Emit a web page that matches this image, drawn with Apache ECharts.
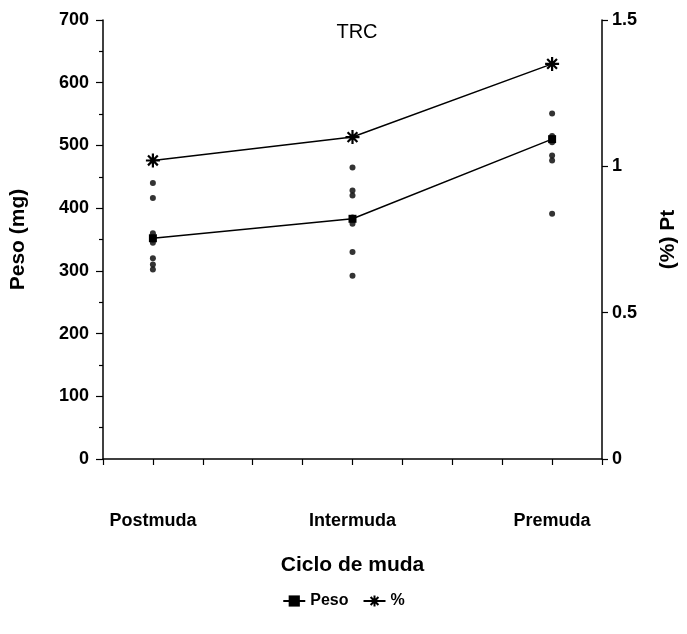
<!DOCTYPE html>
<html>
<head>
<meta charset="utf-8">
<script src="https://cdn.jsdelivr.net/npm/echarts@6/dist/echarts.min.js"></script>
<style>
  html, body { margin: 0; padding: 0; background: #fff; }
</style>
</head>
<body>
<div id="chart" style="width: 687px;height: 634px"></div>
<script>
// categorias (posicion en el eje x de 0 a 10)
const categorias = ['Postmuda', 'Intermuda', 'Premuda']
const posX = [1, 5, 9]
// promedios
const pesoMedia = [352, 383, 510]
const ptMedia = [1.02, 1.10, 1.35]
// valores individuales de peso (mg)
const pesoPost = [440, 416, 360, 350, 345, 320, 310, 302]
const pesoInter = [465, 428, 420, 385, 375, 330, 292]
const pesoPre = [551, 515, 510, 505, 484, 476, 391]

const asterisco = 'path://M0,-10L0,10M-10,0L10,0M-7,-7L7,7M-7,7L7,-7'
const fuente = 'Liberation Sans'

function puntos (x, vals) {
  return vals.map(v => [x, v])
}

const individuales = [].concat(
  puntos(posX[0], pesoPost),
  puntos(posX[1], pesoInter),
  puntos(posX[2], pesoPre)
)

const myChart = echarts.init(document.getElementById('chart'))
const option = {
  animation: false,
  title: {
    text: 'TRC',
    left: 352,
    top: 17,
    textAlign: 'center',
    textStyle: { fontFamily: fuente, fontSize: 20, fontWeight: 'normal', color: '#000' }
  },
  legend: {
    bottom: 20,
    left: 'center',
    itemWidth: 22,
    itemGap: 14,
    data: ['Peso', '%'],
    textStyle: { fontFamily: fuente, fontSize: 16, fontWeight: 'bold', color: '#000' }
  },
  grid: { left: 98, right: 81, top: 20, bottom: 175 },
  xAxis: {
    type: 'value',
    min: 0,
    max: 10,
    interval: 1,
    name: 'Ciclo de muda',
    nameLocation: 'middle',
    nameGap: 96,
    nameTextStyle: { fontFamily: fuente, fontSize: 21, fontWeight: 'bold', color: '#000' },
    axisLine: { lineStyle: { color: '#000', width: 1.5 } },
    axisTick: { show: true, inside: false, length: 6, lineStyle: { color: '#000', width: 1.2 } },
    splitLine: { show: false },
    axisLabel: {
      margin: 53,
      fontFamily: fuente,
      fontSize: 18,
      fontWeight: 'bold',
      color: '#000',
      formatter: function (v) {
        const i = posX.indexOf(v)
        return i >= 0 ? categorias[i] : ''
      }
    }
  },
  yAxis: [
    {
      type: 'value',
      min: 0,
      max: 700,
      interval: 100,
      name: 'Peso (mg)',
      nameLocation: 'middle',
      nameGap: 74,
      nameTextStyle: { fontFamily: fuente, fontSize: 21, fontWeight: 'bold', color: '#000' },
      axisLine: { show: true, lineStyle: { color: '#000', width: 1.5 } },
      axisTick: { show: true, length: 7, lineStyle: { color: '#000', width: 1.2 } },
      minorTick: { show: true, splitNumber: 2, length: 4, lineStyle: { color: '#000', width: 1.2 } },
      splitLine: { show: false },
      axisLabel: { margin: 14, fontFamily: fuente, fontSize: 18, fontWeight: 'bold', color: '#000' }
    },
    {
      type: 'value',
      min: 0,
      max: 1.5,
      interval: 0.5,
      position: 'right',
      name: '(%) Pt',
      nameLocation: 'middle',
      nameRotate: 90,
      nameGap: 56,
      nameTextStyle: { fontFamily: fuente, fontSize: 21, fontWeight: 'bold', color: '#000' },
      axisLine: { show: true, lineStyle: { color: '#000', width: 1.5 } },
      axisTick: { show: true, length: 6, lineStyle: { color: '#000', width: 1.2 } },
      splitLine: { show: false },
      axisLabel: { margin: 10, fontFamily: fuente, fontSize: 18, fontWeight: 'bold', color: '#000' }
    }
  ],
  series: [
    {
      name: 'individual',
      type: 'scatter',
      yAxisIndex: 0,
      symbol: 'circle',
      symbolSize: 6,
      itemStyle: { color: '#000' },
      data: individuales,
      z: 3
    },
    {
      name: 'Peso',
      type: 'line',
      yAxisIndex: 0,
      symbol: 'rect',
      symbolSize: 8,
      itemStyle: { color: '#000' },
      lineStyle: { color: '#000', width: 1.5 },
      data: posX.map((x, i) => [x, pesoMedia[i]])
    },
    {
      name: '%',
      type: 'line',
      yAxisIndex: 1,
      symbol: asterisco,
      symbolSize: 14,
      itemStyle: { color: '#000', borderColor: '#000', borderWidth: 2.2 },
      lineStyle: { color: '#000', width: 1.5 },
      data: posX.map((x, i) => [x, ptMedia[i]])
    }
  ]
}
myChart.setOption(option)
</script>
</body>
</html>
